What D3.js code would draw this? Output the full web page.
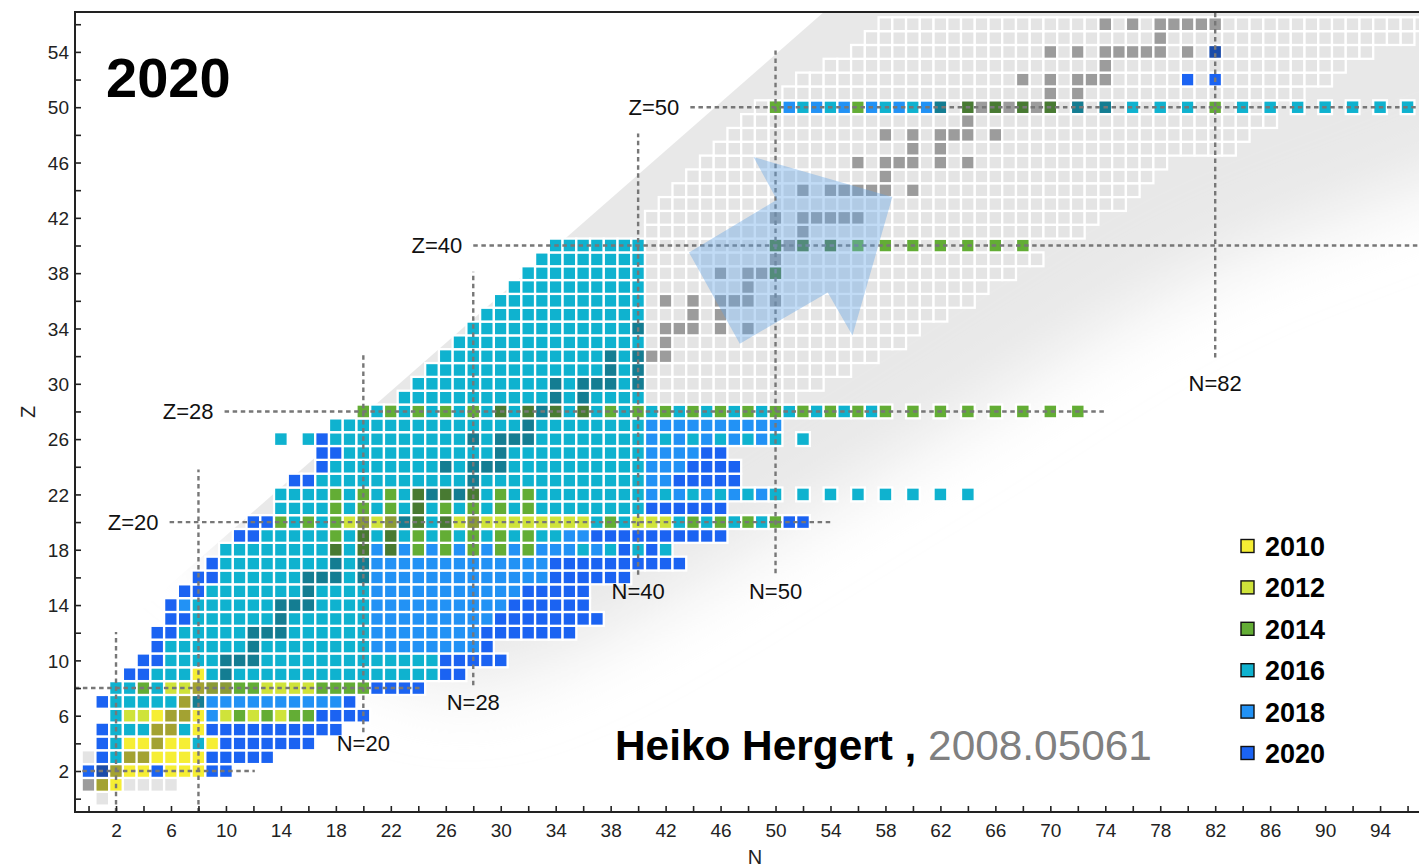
<!DOCTYPE html>
<html>
<head>
<meta charset="utf-8">
<script src="https://cdn.jsdelivr.net/npm/d3@7"></script>
<style>
  html, body { margin: 0; padding: 0; background: #fff; }
  svg { display: block; }
  text { font-family: "Liberation Sans", Arial, Helvetica, sans-serif; }
</style>
</head>
<body>
<svg id="chart" width="1419" height="867"></svg>
<script>
// ---------------------------------------------------------------------------
// Data
// ---------------------------------------------------------------------------
// Legend: year in which a nuclide was first computed, and the code used for it.
const legendYears = ["2010", "2012", "2014", "2016", "2018", "2020"];
const yearCodes   = ["a", "b", "c", "d", "e", "f"];

// Nuclide chart, one entry per proton number Z: [Z, first N, run-length cells].
// a..f  computed in 2010..2020, upper case = same year on a stable nuclide,
// g = known nuclide not computed, s = stable nuclide not computed, . = none.
const nuclideRows = [
  [0, 1, "g"],
  [1, 0, "sAa4g"],
  [2, 0, "fFA2af3a2f"],
  [3, 0, "gfd2A4a5f"],
  [4, 1, "fd2aA2ada7f"],
  [5, 1, "f3d2Ada10f"],
  [6, 2, "d2ba2Aaebcbcb2c4f"],
  [7, 1, "f5dAD10ef"],
  [8, 2, "2dcd2bA2B2c4b4c4f"],
  [9, 3, "2f3dadD15d2f"],
  [10, 4, "2f4d3D13d5f"],
  [11, 5, "f6dD8d8ef"],
  [12, 5, "2f5d3D6d8e7f"],
  [13, 6, "2f6dD6d9e8f"],
  [14, 6, "fe6d3D4d10e6f"],
  [15, 7, "2f7dD4d11e5f"],
  [16, 8, "2f6d3DdD13e6f"],
  [17, 9, "f8dDdD13e10f"],
  [18, 10, "8dCdCeCececececece2ededfdfd"],
  [19, 11, "2f5dcdCdCdcdcdcdcdcdd2e10f"],
  [20, 12, "2fcdcdcbBbBDCdCbB8bdcd3bdcdcdcdc2f"],
  [21, 14, "4dcdcdcdCdcdcdcdc8d6f"],
  [22, 14, "4dcdcdcdCDCDCdcdc8dededededed.d.d.d.d.d.d.d"],
  [23, 15, "2f11dD12d2e5f"],
  [24, 17, "f8dDd3D10d3e4f"],
  [25, 17, "2f11dD10d4e2f"],
  [26, 14, "d.df10dDd3D8dededededed.d"],
  [27, 18, "14dD8d10e"],
  [28, 20, "cdcdcdcdcdCdCDCdCdcdcdcdcdcdcdcdcdcdcdc.c.c.c.c.c.c.c"],
  [29, 23, "11dDdD4d11g"],
  [30, 24, "10dDd3DdD13g"],
  [31, 25, "13dDdD15g"],
  [32, 26, "12dDdD2s15g"],
  [33, 27, "14dgs17g"],
  [34, 28, "12dDg3sgsgs12g"],
  [35, 29, "12d3gsgs16g"],
  [36, 30, "11dgsgsg3sgs14g"],
  [37, 31, "10d7gs17g"],
  [38, 32, "9d5gsg2sC17g"],
  [39, 33, "8d9gs19g"],
  [40, 34, "7d9gCsCgCgcgcgcgcgcgcgc"],
  [41, 41, "11gs20g"],
  [42, 41, "9gsg5s17g"],
  [43, 42, "34g"],
  [44, 43, "9gsg5sgs16g"],
  [45, 44, "14gs19g"],
  [46, 45, "11gsg3sgsgs14g"],
  [47, 46, "14gsgs21g"],
  [48, 47, "11gsgsg3sgs18g"],
  [49, 48, "16gs22g"],
  [50, 49, "gcededecededeDgCsCsCsCgDgDgdgdgdgcgdgd.d.d.d.d.d"],
  [51, 51, "19gsgs16g"],
  [52, 52, "16gsgsg3s5gfgf8g"],
  [53, 54, "20gs17g"],
  [54, 56, "14gsgsg5sgsgF11g"],
  [55, 57, "21gs18g"],
  [56, 58, "16gsgsg5s15g"]
];

// Axis tick labels
const nTickLabels = [2, 6, 10, 14, 18, 22, 26, 30, 34, 38, 42, 46, 50, 54, 58, 62, 66, 70, 74, 78, 82, 86, 90, 94];
const zTickLabels = [2, 6, 10, 14, 18, 22, 26, 30, 34, 38, 42, 46, 50, 54];

// Magic-number guide lines (in N, Z units)
const zGuides = [
  { Z: 50, from: 43.8, to: 97.5, label: "Z=50" },
  { Z: 40, from: 28.0, to: 97.5, label: "Z=40" },
  { Z: 28, from: 9.9, to: 74.0, label: "Z=28" },
  { Z: 20, from: 5.9, to: 54.0, label: "Z=20" },
  { Z: 8, from: -1.0, to: 24.3, label: null },
  { Z: 2, from: -0.45, to: 12.1, label: null }
];
const nGuides = [
  { N: 82, from: 31.9, to: 57.5, label: "N=82", labelZ: 30.05 },
  { N: 50, from: 16.3, to: 54.1, label: "N=50", labelZ: 15.0 },
  { N: 40, from: 16.2, to: 48.1, label: "N=40", labelZ: 15.0 },
  { N: 28, from: 8.2, to: 38.1, label: "N=28", labelZ: 7.0 },
  { N: 20, from: 4.8, to: 32.1, label: "N=20", labelZ: 4.0 },
  { N: 8, from: -1.0, to: 23.8, label: null },
  { N: 2, from: -1.0, to: 12.05, label: null }
];

// Shaded band of known nuclei and the direction arrow (in N, Z units)
const bandUpperEdge = [[-1, 9.45], [53.65, 57]];
const bandLowerEdge = [[110, 50], [97.5, 44.5], [80.9, 37.8], [59.1, 24.6], [34.3, 10.2], [27, 8.2], [20, 10.5], [12, 16], [7, 20]];
const arrowOutline = [[43.7, 39.5], [50.1, 43.3], [48.4, 46.4], [58.5, 43.5], [55.6, 33.5], [53.8, 36.6], [47.4, 32.9]];

// ---------------------------------------------------------------------------
// Styling
// ---------------------------------------------------------------------------
const cellFill = {
  a: "#f6ee34", b: "#cfe33a", c: "#63ad35", d: "#0fb2cf", e: "#2292f5", f: "#1b63f2",
  g: "#e4e4e4", s: "#9c9c9c"
};
const stableShade = "rgba(30,40,48,0.38)";

// ---------------------------------------------------------------------------
// Scales and layout
// ---------------------------------------------------------------------------
const svg = d3.select("#chart");
const plot = { left: 75, right: 1419, top: 12, bottom: 812 };
const x = d3.scaleLinear().domain([-1, 97]).range([74.8, 1421.3]);
const y = d3.scaleLinear().domain([-1, 57]).range([812.5, 10.4]);
const pitchX = x(1) - x(0), pitchY = y(0) - y(1);

const defs = svg.append("defs");
defs.append("clipPath").attr("id", "plotClip")
  .append("rect")
  .attr("x", plot.left).attr("y", plot.top)
  .attr("width", plot.right - plot.left).attr("height", plot.bottom - plot.top);

// Sharp upper-left boundary of the shaded band
const bandClipPts = [bandUpperEdge[0], bandUpperEdge[1], [120, 57], [120, -5], [-5, -5], [-5, bandUpperEdge[0][1]]];
defs.append("clipPath").attr("id", "bandClip")
  .append("path")
  .attr("d", d3.line().x(d => x(d[0])).y(d => y(d[1]))(bandClipPts) + "Z");

const blur = defs.append("filter").attr("id", "bandBlur")
  .attr("x", "-30%").attr("y", "-30%").attr("width", "160%").attr("height", "160%");
blur.append("feGaussianBlur").attr("stdDeviation", 36);

// ---------------------------------------------------------------------------
// Band of known nuclei (soft lower-right edge)
// ---------------------------------------------------------------------------
const bandLayer = svg.append("g").attr("clip-path", "url(#plotClip)")
  .append("g").attr("clip-path", "url(#bandClip)");
const bandShape = [[0, 26], [45, 82], [125, 82]].concat(bandLowerEdge);
bandLayer.append("path")
  .attr("d", d3.line().x(d => x(d[0])).y(d => y(d[1])).curve(d3.curveCatmullRom)(bandShape) + "Z")
  .attr("fill", "#e8e8e8")
  .attr("filter", "url(#bandBlur)");

// ---------------------------------------------------------------------------
// Nuclide cells
// ---------------------------------------------------------------------------
function decodeRow(Z, startN, runs) {
  const cells = [];
  let n = startN;
  for (const m of runs.matchAll(/(\d*)([a-zA-Z.])/g)) {
    const count = m[1] ? +m[1] : 1;
    for (let i = 0; i < count; i++) {
      if (m[2] !== ".") cells.push({ N: n, Z: Z, code: m[2] });
      n++;
    }
  }
  return cells;
}
const cells = nuclideRows.flatMap(r => decodeRow(r[0], r[1], r[2]));

const cellLayer = svg.append("g").attr("clip-path", "url(#plotClip)");
cellLayer.selectAll("rect.cell")
  .data(cells)
  .join("rect")
  .attr("class", "cell")
  .attr("x", d => x(d.N) - pitchX / 2)
  .attr("y", d => y(d.Z) - pitchY / 2)
  .attr("width", pitchX)
  .attr("height", pitchY)
  .attr("fill", d => cellFill[d.code.toLowerCase()])
  .attr("stroke", "#fff")
  .attr("stroke-width", 2.3);

// stable nuclei among the computed ones are drawn darker
cellLayer.selectAll("rect.stable")
  .data(cells.filter(d => /[A-F]/.test(d.code)))
  .join("rect")
  .attr("class", "stable")
  .attr("x", d => x(d.N) - pitchX / 2 + 1.15)
  .attr("y", d => y(d.Z) - pitchY / 2 + 1.15)
  .attr("width", pitchX - 2.3)
  .attr("height", pitchY - 2.3)
  .attr("fill", stableShade);

// ---------------------------------------------------------------------------
// Magic-number guide lines
// ---------------------------------------------------------------------------
const guideLayer = svg.append("g").attr("clip-path", "url(#plotClip)");
const dashStyle = sel => sel.attr("stroke", "#777").attr("stroke-width", 2.4)
  .attr("stroke-dasharray", "4.5,3.6").attr("fill", "none");

guideLayer.selectAll("line.zg").data(zGuides).join("line")
  .attr("class", "zg")
  .attr("x1", d => x(d.from)).attr("x2", d => x(d.to))
  .attr("y1", d => y(d.Z)).attr("y2", d => y(d.Z))
  .call(dashStyle);

guideLayer.selectAll("line.ng").data(nGuides).join("line")
  .attr("class", "ng")
  .attr("x1", d => x(d.N)).attr("x2", d => x(d.N))
  .attr("y1", d => y(d.from)).attr("y2", d => y(d.to))
  .call(dashStyle);

// Direction arrow
svg.append("g").attr("clip-path", "url(#plotClip)")
  .append("path")
  .attr("d", d3.line().x(d => x(d[0])).y(d => y(d[1]))(arrowOutline) + "Z")
  .attr("fill", "rgb(100,165,230)")
  .attr("fill-opacity", 0.4);

// Guide labels
const labelSize = 22;
svg.selectAll("text.zlab").data(zGuides.filter(d => d.label)).join("text")
  .attr("class", "zlab")
  .attr("x", d => x(d.from) - 11)
  .attr("y", d => y(d.Z) + 8)
  .attr("text-anchor", "end")
  .attr("font-size", labelSize)
  .attr("fill", "#111")
  .text(d => d.label);

svg.selectAll("text.nlab").data(nGuides.filter(d => d.label)).join("text")
  .attr("class", "nlab")
  .attr("x", d => x(d.N))
  .attr("y", d => y(d.labelZ) + 8)
  .attr("text-anchor", "middle")
  .attr("font-size", labelSize)
  .attr("fill", "#111")
  .text(d => d.label);

// ---------------------------------------------------------------------------
// Axes
// ---------------------------------------------------------------------------
const axisColor = "#222";
const xAxis = d3.axisBottom(x)
  .tickValues(d3.range(0, 97, 2))
  .tickSize(-6)
  .tickFormat(d => nTickLabels.includes(d) ? d : "");
const yAxis = d3.axisLeft(y)
  .tickValues(d3.range(0, 57, 2))
  .tickSize(-6)
  .tickFormat(d => zTickLabels.includes(d) ? d : "");

const gx = svg.append("g").attr("transform", `translate(0,${plot.bottom})`).call(xAxis);
const gy = svg.append("g").attr("transform", `translate(${plot.left},0)`).call(yAxis);
[gx, gy].forEach(g => {
  g.select(".domain").remove();
  g.selectAll(".tick line").attr("stroke", axisColor).attr("stroke-width", 1.6);
  g.selectAll(".tick text")
    .attr("font-family", "'Liberation Sans', Arial, sans-serif")
    .attr("font-size", 19)
    .attr("fill", "#222");
});
gx.selectAll(".tick text").attr("dy", null).attr("y", 25);
gy.selectAll(".tick text").attr("x", -6).attr("dy", "0.35em");

// frame
svg.append("path")
  .attr("d", `M${plot.right + 2},${plot.top} H${plot.left} V${plot.bottom} H${plot.right + 2}`)
  .attr("fill", "none").attr("stroke", axisColor).attr("stroke-width", 2);

svg.append("text").attr("x", (plot.left + plot.right) / 2 + 8).attr("y", 864)
  .attr("text-anchor", "middle").attr("font-size", 20).attr("fill", "#222").text("N");
svg.append("text")
  .attr("transform", `translate(35,${(plot.top + plot.bottom) / 2}) rotate(-90)`)
  .attr("text-anchor", "middle").attr("font-size", 20).attr("fill", "#222").text("Z");

// ---------------------------------------------------------------------------
// Title, credit and legend
// ---------------------------------------------------------------------------
svg.append("text").attr("x", 106).attr("y", 97)
  .attr("font-size", 56).attr("font-weight", "bold").attr("fill", "#000").text("2020");

const credit = svg.append("text").attr("x", 615).attr("y", 760)
  .attr("font-family", "Lato, 'Open Sans', sans-serif").attr("font-size", 38);
credit.append("tspan").attr("font-weight", "bold").attr("fill", "#000").text("Heiko Hergert , ");
credit.append("tspan").attr("fill", "#808080").text("2008.05061");
const creditWidth = credit.node().getComputedTextLength();
credit.attr("font-size", 38 * 537 / creditWidth);

const legend = svg.append("g");
const legendRow = legend.selectAll("g").data(legendYears).join("g")
  .attr("transform", (d, i) => `translate(1241,${546 + i * 41.4})`);
legendRow.append("rect")
  .attr("x", 0).attr("y", -6.5).attr("width", 13).attr("height", 13)
  .attr("fill", (d, i) => cellFill[yearCodes[i]])
  .attr("stroke", "#111").attr("stroke-width", 1.4);
legendRow.append("text")
  .attr("x", 24).attr("y", 10)
  .attr("font-size", 27).attr("font-weight", "bold").attr("fill", "#000")
  .text(d => d);
</script>
</body>
</html>
